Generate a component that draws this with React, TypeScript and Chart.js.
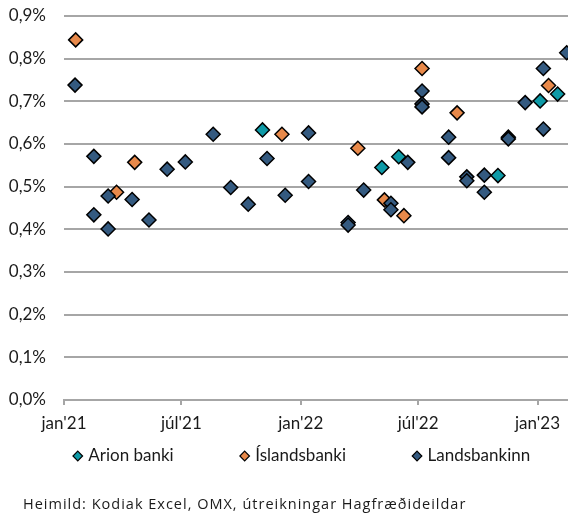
import React, { useEffect, useRef } from 'react';
import { Chart, registerables } from 'chart.js';

Chart.register(...registerables);

const startDate = '2021-01-01';
const endDate = '2023-02-17';

const xTickDates = ['2021-01-01', '2021-07-01', '2022-01-01', '2022-07-01', '2023-01-01'];
const xTickLabels = ["jan'21", "júl'21", "jan'22", "júl'22", "jan'23"];

const seriesNames = ['Arion banki', 'Íslandsbanki', 'Landsbankinn'];
const seriesColors = ['#0e9aa7', '#e8894a', '#345a80'];

const arionDates = ['2021-11-03', '2022-05-06', '2022-06-01', '2022-11-01', '2023-01-05', '2023-02-01'];
const arionValues = [0.633, 0.545, 0.57, 0.526, 0.701, 0.717];

const islandsDates = ['2021-01-19', '2021-03-23', '2021-04-20', '2021-12-03', '2022-03-30', '2022-05-10', '2022-06-09', '2022-07-07', '2022-08-30', '2023-01-18'];
const islandsValues = [0.844, 0.487, 0.557, 0.623, 0.59, 0.469, 0.432, 0.777, 0.673, 0.737];

const landsDates = [
  '2021-01-18', '2021-02-16', '2021-02-16', '2021-03-10', '2021-03-10', '2021-04-16', '2021-05-12',
  '2021-06-09', '2021-07-07', '2021-08-19', '2021-09-15', '2021-10-12', '2021-11-10', '2021-12-08',
  '2022-01-13', '2022-01-13', '2022-03-15', '2022-03-15', '2022-04-08', '2022-05-20', '2022-05-20',
  '2022-06-15', '2022-07-07', '2022-07-07', '2022-07-07', '2022-08-17', '2022-08-17', '2022-09-14',
  '2022-09-14', '2022-10-11', '2022-10-11', '2022-11-17', '2022-11-17', '2022-12-13', '2023-01-10',
  '2023-01-10', '2023-02-15',
];
const landsValues = [
  0.738, 0.571, 0.434, 0.478, 0.401, 0.47, 0.422,
  0.541, 0.558, 0.623, 0.498, 0.459, 0.566, 0.48,
  0.626, 0.512, 0.416, 0.41, 0.492, 0.461, 0.446,
  0.557, 0.724, 0.694, 0.687, 0.616, 0.568, 0.523,
  0.514, 0.527, 0.487, 0.616, 0.612, 0.697, 0.777,
  0.635, 0.814,
];

const caption = 'Heimild: Kodiak Excel, OMX, útreikningar Hagfræðideildar';

const dayOf = (s: string) => (Date.parse(s) - Date.parse(startDate)) / 86400000;
const toPoints = (dates: string[], values: number[]) => dates.map((d, i) => ({ x: dayOf(d), y: values[i] }));

const FONT = 'Lato, "Open Sans", sans-serif';
const GRID = '#a6a6a6';
const TEXT = '#1a1a1a';

const legendPlugin = {
  id: 'diamondLegend',
  afterDraw(chart: any) {
    const ctx = chart.ctx as CanvasRenderingContext2D;
    ctx.save();
    ctx.font = `17px ${FONT}`;
    ctx.textBaseline = 'middle';
    ctx.textAlign = 'left';
    const r = 4.8;
    const markerW = 10;
    const gapText = 5.5;
    const gapItems = 66;
    const items = chart.data.datasets.map((ds: any) => ({
      label: ds.label as string,
      color: ds.backgroundColor as string,
      w: markerW + gapText + ctx.measureText(ds.label).width,
    }));
    const total = items.reduce((s: number, it: any) => s + it.w, 0) + gapItems * (items.length - 1);
    const centerX = 301.5;
    const y = 456;
    let x = centerX - total / 2;
    for (const it of items) {
      const cx = x + markerW / 2;
      ctx.beginPath();
      ctx.moveTo(cx, y - r);
      ctx.lineTo(cx + r, y);
      ctx.lineTo(cx, y + r);
      ctx.lineTo(cx - r, y);
      ctx.closePath();
      ctx.fillStyle = it.color;
      ctx.fill();
      ctx.lineWidth = 1.2;
      ctx.strokeStyle = '#000';
      ctx.stroke();
      ctx.fillStyle = TEXT;
      ctx.fillText(it.label, x + markerW + gapText, y);
      x += it.w + gapItems;
    }
    ctx.restore();
  },
};

export default function App() {
  const ref = useRef<HTMLCanvasElement>(null);

  useEffect(() => {
    const common = {
      pointStyle: 'rectRot' as const,
      pointRadius: 7,
      pointHoverRadius: 7,
      borderColor: '#000000',
      borderWidth: 1.5,
    };
    const chart = new Chart(ref.current!, {
      type: 'scatter',
      data: {
        datasets: [
          { label: seriesNames[0], data: toPoints(arionDates, arionValues), backgroundColor: seriesColors[0], order: 2, ...common },
          { label: seriesNames[1], data: toPoints(islandsDates, islandsValues), backgroundColor: seriesColors[1], order: 1, ...common },
          { label: seriesNames[2], data: toPoints(landsDates, landsValues), backgroundColor: seriesColors[2], order: 0, ...common },
        ],
      },
      options: {
        animation: false,
        responsive: false,
        layout: { autoPadding: false, padding: { top: 0, right: 0, left: 0, bottom: 83 } },
        plugins: {
          tooltip: { enabled: false },
          legend: { display: false },
        },
        scales: {
          x: {
            type: 'linear',
            min: 0,
            max: dayOf(endDate),
            afterBuildTicks: (scale: any) => {
              scale.ticks = xTickDates.map((d) => ({ value: dayOf(d) }));
            },
            afterFit: (scale: any) => {
              scale.height = 34;
              scale.paddingLeft = 0;
              scale.paddingRight = 0;
            },
            ticks: {
              autoSkip: false,
              maxRotation: 0,
              padding: 8,
              color: TEXT,
              font: { family: FONT, size: 17 },
              callback: (_v: any, i: number) => xTickLabels[i],
            },
            grid: { drawOnChartArea: false, drawTicks: true, tickLength: 5, color: GRID, lineWidth: 2 },
            border: { color: GRID, width: 2 },
          },
          y: {
            min: 0,
            max: 0.9,
            afterFit: (scale: any) => {
              scale.width = 64;
              scale.paddingTop = 16;
              scale.paddingBottom = 0;
            },
            ticks: {
              stepSize: 0.1,
              padding: 18,
              color: TEXT,
              font: { family: FONT, size: 17 },
              callback: (v: any) => Number(v).toFixed(1).replace('.', ',') + '%',
            },
            grid: { color: GRID, lineWidth: 2, drawTicks: false },
            border: { display: false },
          },
        },
      },
      plugins: [legendPlugin],
    });
    return () => chart.destroy();
  }, []);

  return (
    <div style={{ position: 'absolute', left: 0, top: 0, width: 568, height: 517, background: '#fff', overflow: 'hidden' }}>
      <canvas ref={ref} width={568} height={517} style={{ display: 'block' }} />
      <div
        style={{
          position: 'absolute',
          left: 23,
          top: 494,
          fontFamily: '"Open Sans", sans-serif',
          fontSize: 14.5,
          letterSpacing: '1px',
          color: TEXT,
          whiteSpace: 'nowrap',
          lineHeight: '20px',
        }}
      >
        {caption}
      </div>
    </div>
  );
}
